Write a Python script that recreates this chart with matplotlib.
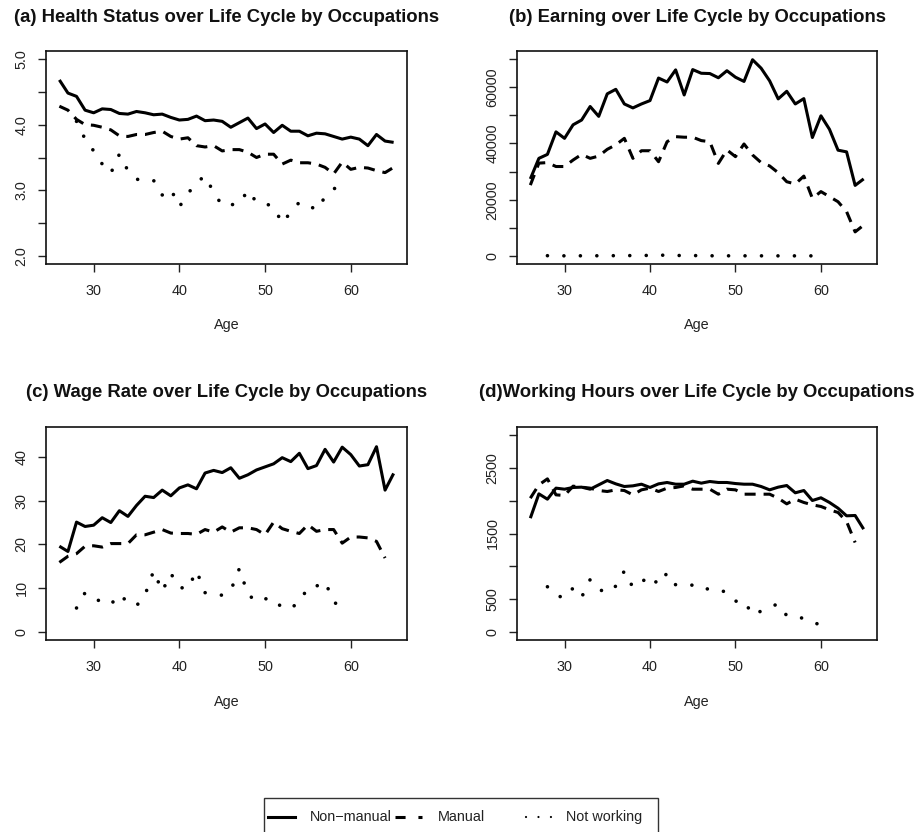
import matplotlib
matplotlib.use('Agg')
import matplotlib.pyplot as plt
import numpy as np
from matplotlib.lines import Line2D
from matplotlib.patches import Rectangle

plt.rcParams['font.family'] = ['Liberation Sans', 'DejaVu Sans']

ages = [26, 27, 28, 29, 30, 31, 32, 33, 34, 35, 36, 37, 38, 39, 40, 41, 42, 43, 44, 45,
        46, 47, 48, 49, 50, 51, 52, 53, 54, 55, 56, 57, 58, 59, 60, 61, 62, 63, 64, 65]
nw_ages = [28, 29, 30, 31, 32, 33, 34, 35, 36, 37, 38, 39, 40, 41, 42, 43, 44, 45, 46, 47,
           48, 49, 50, 51, 52, 53, 54, 55, 56, 57, 58, 59, 60]
nan = float('nan')

# (a) Health status
health_nonmanual = [4.68, 4.48, 4.43, 4.22, 4.18, 4.24, 4.23, 4.17, 4.16, 4.20,
                    4.18, 4.15, 4.16, 4.11, 4.07, 4.08, 4.13, 4.06, 4.07, 4.05,
                    3.96, 4.03, 4.10, 3.94, 4.01, 3.88, 3.99, 3.90, 3.90, 3.83,
                    3.87, 3.86, 3.82, 3.78, 3.81, 3.78, 3.68, 3.85, 3.75, 3.73]
health_manual = [4.28, 4.22, 4.08, 4.00, 3.99, 3.96, 3.92, 3.83, 3.82, 3.85,
                 3.85, 3.88, 3.90, 3.82, 3.78, 3.80, 3.68, 3.66, 3.68, 3.60,
                 3.62, 3.62, 3.58, 3.50, 3.55, 3.55, 3.40, 3.46, 3.42, 3.42,
                 3.40, 3.35, 3.25, 3.43, 3.32, 3.35, 3.34, 3.30, 3.27, 3.35]
health_notworking = [4.05, 3.78, 3.60, 3.40, 3.26, 3.55, 3.30, 3.17, 3.15, 3.15,
                     2.93, 3.02, 2.75, 2.95, 3.12, 3.22, 2.97, 2.77, 2.78, 2.80,
                     3.00, 2.82, 2.80, 2.75, 2.50, 2.67, 2.82, 2.78, 2.70, 2.90,
                     3.02, 3.10, nan]

# (b) Earnings
earn_nonmanual = [27400, 34700, 36100, 44100, 41800, 46600, 48300, 53100, 49600, 57600,
                  59200, 54000, 52600, 54000, 55200, 63200, 61800, 66100, 57200, 66200,
                  64900, 64800, 63300, 65800, 63500, 62000, 69700, 66700, 62200, 55800,
                  58500, 54000, 55900, 42100, 49800, 45000, 37600, 37000, 25100, 27400]
earn_manual = [25200, 33000, 33200, 31800, 31800, 34100, 36100, 34700, 35500, 37900,
               39500, 41800, 34700, 37400, 37400, 33500, 40600, 42400, 42200, 42200,
               41000, 40600, 32900, 37700, 35300, 39800, 35900, 33200, 32000, 29600,
               26400, 25600, 28400, 20500, 22900, 21100, 19300, 15800, 8600, 11000]
earn_notworking = [150, 120, 100, 130, 110, 140, 120, 160, 150, 200,
                   180, 220, 250, 350, 300, 250, 180, 200, 150, 120,
                   100, 110, 90, 100, 120, 100, 80, 90, 100, 90,
                   80, 90, 100]

# (c) Wage rate
wage_nonmanual = [19.6, 18.4, 25.1, 24.1, 24.4, 26.1, 25.0, 27.7, 26.4, 28.9,
                  31.0, 30.7, 32.4, 31.1, 32.9, 33.6, 32.7, 36.3, 36.9, 36.4,
                  37.5, 35.1, 35.9, 37.0, 37.7, 38.4, 39.8, 38.9, 40.8, 37.3,
                  38.0, 41.7, 38.8, 42.2, 40.5, 37.9, 38.2, 42.3, 32.4, 36.2]
wage_manual = [15.9, 17.3, 17.9, 19.6, 19.7, 19.4, 20.2, 20.2, 20.2, 22.2,
               22.2, 22.8, 23.4, 22.6, 22.5, 22.5, 22.3, 23.4, 22.8, 24.0,
               22.8, 23.8, 23.8, 23.4, 22.2, 25.1, 23.6, 23.0, 22.5, 24.5,
               23.0, 23.4, 23.4, 20.3, 21.7, 21.7, 21.5, 20.7, 16.9, nan]
wage_notworking = [5.5, 9.0, 7.8, 6.8, 6.3, 8.6, 6.8, 6.0, 8.5, 14.0,
                   9.3, 13.4, 10.2, 9.9, 14.0, 9.0, 8.8, 8.4, 9.5, 14.5,
                   8.6, 7.0, 7.6, 7.6, 5.5, 5.5, 6.8, 10.2, 10.5, 11.5,
                   7.0, 5.2, nan]

# (d) Working hours
hours_nonmanual = [1733, 2103, 2022, 2190, 2174, 2200, 2205, 2174, 2240, 2306,
                   2255, 2215, 2225, 2250, 2200, 2255, 2276, 2250, 2250, 2296,
                   2266, 2291, 2276, 2276, 2260, 2250, 2250, 2215, 2164, 2205,
                   2230, 2119, 2154, 2002, 2043, 1972, 1885, 1769, 1774, 1566]
hours_manual = [2037, 2240, 2331, 2088, 2078, 2220, 2205, 2190, 2154, 2139,
                2164, 2154, 2088, 2164, 2190, 2139, 2190, 2200, 2225, 2174,
                2174, 2174, 2098, 2174, 2164, 2098, 2098, 2098, 2098, 2037,
                1951, 2022, 1972, 1936, 1911, 1860, 1820, 1683, 1363, nan]
hours_notworking = [690, 560, 520, 670, 530, 800, 650, 600, 700, 930,
                    680, 760, 860, 720, 900, 720, 710, 715, 650, 660,
                    650, 600, 470, 480, 260, 320, 380, 430, 250, 230,
                    210, 160, 100]

titles = ["(a) Health Status over Life Cycle by Occupations",
          "(b) Earning over Life Cycle by Occupations",
          "(c) Wage Rate over Life Cycle by Occupations",
          "(d)Working Hours over Life Cycle by Occupations"]
legend_labels = ["Non\u2212manual", "Manual", "Not working"]

W, H = 921, 832
fig = plt.figure(figsize=(W / 100, H / 100), dpi=100)

LW = 2.2
TICK_FS = 10.4
TITLE_FS = 13.3


def px_axes(l, t, r, b):
    return fig.add_axes([l / W, 1 - b / H, (r - l) / W, (b - t) / H])


def draw_panel(rect, title, title_y, label_y, nm, m, nw, ylim, yticks, ylabels):
    ax = px_axes(*rect)
    ax.plot(ages, nm, color='black', lw=LW, solid_joinstyle='round', solid_capstyle='butt')
    ax.plot(ages, m, color='black', lw=LW, linestyle=(0, (3.6, 2.6)),
            dash_capstyle='butt', dash_joinstyle='round')
    ax.plot(nw_ages, nw, color='black', lw=2.6, linestyle=(0, (0.01, 4.55)),
            dash_capstyle='round')
    ax.set_xlim(24.44, 66.56)
    ax.set_ylim(*ylim)
    ax.set_xticks([30, 40, 50, 60])
    ax.set_xticklabels(['30', '40', '50', '60'])
    ax.set_yticks(yticks)
    ax.set_yticklabels(ylabels, rotation=90, va='center')
    ax.tick_params(axis='both', direction='out', length=5.5, width=1.0,
                   labelsize=TICK_FS, color='#222222', labelcolor='#222222')
    ax.tick_params(axis='x', pad=9)
    ax.tick_params(axis='y', pad=7)
    for s in ax.spines.values():
        s.set_linewidth(1.2)
        s.set_color('#111111')
    l, t, r, b = rect
    cx = (l + r) / 2 / W
    fig.text(cx, 1 - title_y / H, title, ha='center', va='center',
             fontsize=TITLE_FS, fontweight='bold', color='#111111')
    fig.text(cx, 1 - label_y / H, 'Age', ha='center', va='center',
             fontsize=TICK_FS, color='#222222')
    return ax


draw_panel((46, 51, 407, 264), titles[0], 18, 325,
           health_nonmanual, health_manual, health_notworking,
           (1.88, 5.12), [2.0, 2.5, 3.0, 3.5, 4.0, 4.5, 5.0],
           ['2.0', '', '3.0', '', '4.0', '', '5.0'])
draw_panel((517, 51, 877, 264), titles[1], 18, 325,
           earn_nonmanual, earn_manual, earn_notworking,
           (-2800, 72800), [0, 10000, 20000, 30000, 40000, 50000, 60000, 70000],
           ['0', '', '20000', '', '40000', '', '60000', ''])
draw_panel((46, 427, 407, 640), titles[2], 393, 702,
           wage_nonmanual, wage_manual, wage_notworking,
           (-1.8, 46.8), [0, 10, 20, 30, 40],
           ['0', '10', '20', '30', '40'])
draw_panel((517, 427, 877, 640), titles[3], 393, 702,
           hours_nonmanual, hours_manual, hours_notworking,
           (-120, 3120), [0, 500, 1000, 1500, 2000, 2500, 3000],
           ['0', '500', '', '1500', '', '2500', ''])

# Legend (bottom, partially clipped by figure edge)
def fx(x):
    return x / W


def fy(y):
    return 1 - y / H


fig.patches.append(Rectangle((fx(264), fy(845)), fx(658) - fx(264), fy(798) - fy(845),
                             transform=fig.transFigure, facecolor='white',
                             edgecolor='#333333', lw=1.0))
ly = fy(817)
fig.lines.append(Line2D([fx(268), fx(295)], [ly, ly], transform=fig.transFigure,
                        color='black', lw=LW))
fig.lines.append(Line2D([fx(395), fx(422)], [ly, ly], transform=fig.transFigure,
                        color='black', lw=LW, linestyle=(0, (3.3, 4.2)),
                        dash_capstyle='butt'))
fig.lines.append(Line2D([fx(526), fx(553)], [ly, ly], transform=fig.transFigure,
                        color='black', lw=1.6, linestyle=(0, (0.01, 5.6)),
                        dash_capstyle='round'))
for x, lab in zip([310, 438, 566], legend_labels):
    fig.text(fx(x), ly, lab, ha='left', va='center', fontsize=TICK_FS, color='#222222')

fig.savefig('out.png', dpi=100)
